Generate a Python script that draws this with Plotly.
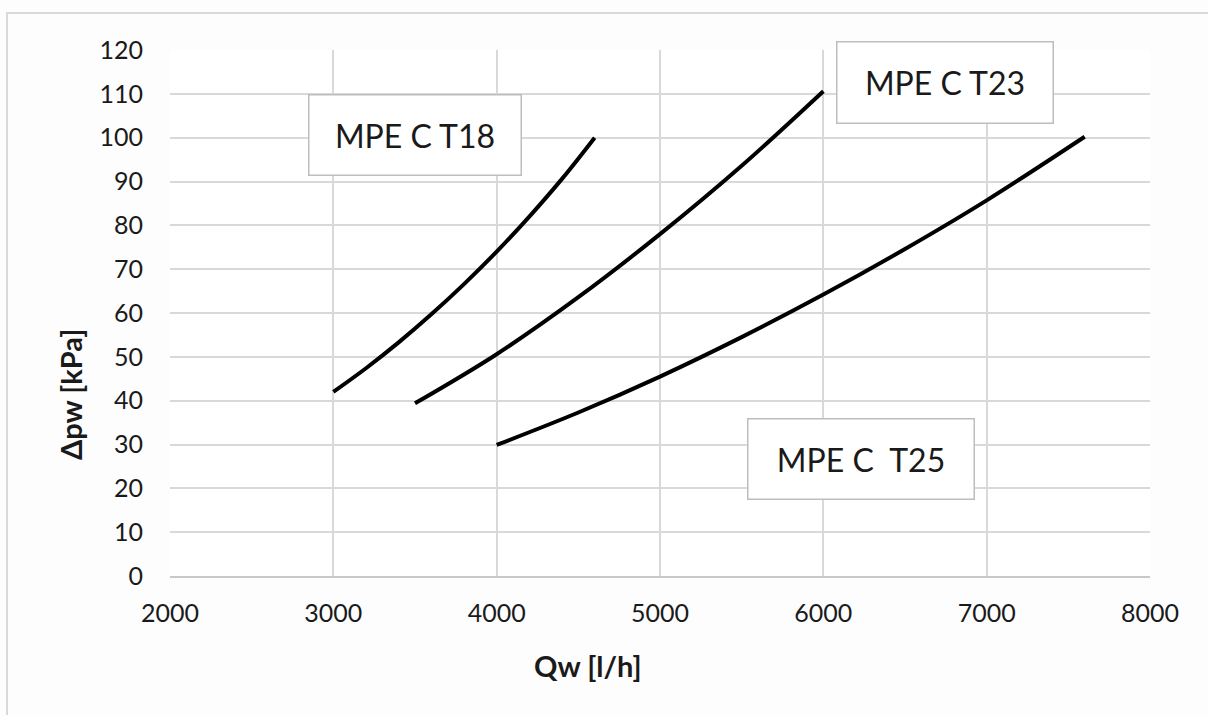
import plotly.graph_objects as go

# Data
qw_t18 = [3000, 3200, 3400, 3600, 3800, 4000, 4200, 4400, 4600]
dp_t18 = [42.0, 47.4, 53.3, 59.7, 66.6, 74.0, 82.0, 90.6, 100.0]

qw_t23 = [3500, 4000, 4500, 5000, 5500, 6000]
dp_t23 = [39.4, 50.6, 63.6, 78.0, 93.6, 110.6]

qw_t25 = [4000, 4500, 5000, 5500, 6000, 6500, 7000, 7600]
dp_t25 = [29.9, 37.3, 45.5, 54.5, 64.2, 74.6, 85.7, 100.2]

series_names = ["MPE C T18", "MPE C T23", "MPE C  T25"]
label_pos = [(3503, 100.0), (6742, 111.8), (6228, 25.9)]
label_box = [(211, 79), (215, 80), (225, 79)]

x_ticks = [2000, 3000, 4000, 5000, 6000, 7000, 8000]
y_ticks = list(range(0, 121, 10))

FONT = "Lato"

fig = go.Figure()
for qx, dy, nm in zip([qw_t18, qw_t23, qw_t25], [dp_t18, dp_t23, dp_t25], series_names):
    fig.add_trace(go.Scatter(
        x=qx, y=dy, mode="lines", name=nm,
        line=dict(color="black", width=4, shape="spline", smoothing=1.0),
        showlegend=False, hoverinfo="skip",
    ))

annotations = []
for nm, (ax, ay), (w, h) in zip(series_names, label_pos, label_box):
    annotations.append(dict(
        x=ax, y=ay, xref="x", yref="y", text=nm.replace("  ", "&nbsp; "),
        showarrow=False, width=w, height=h, align="center", valign="middle",
        bgcolor="white", bordercolor="#bdbdbd", borderwidth=1.5, borderpad=0,
        font=dict(family=FONT, size=32, color="#1a1a1a"), yshift=3,
    ))

# axis titles
annotations.append(dict(
    x=(588 - 170) / 980, y=(576 - 665) / 526, xref="paper", yref="paper",
    text="<b>Qw [l/h]</b>", showarrow=False, xanchor="center", yanchor="middle",
    font=dict(family=FONT, size=29, color="#1a1a1a"),
))
annotations.append(dict(
    x=(70 - 170) / 980, y=(576 - 395) / 526, xref="paper", yref="paper",
    text="<b>Δpw [kPa]</b>", showarrow=False, xanchor="center", yanchor="middle",
    textangle=-90, font=dict(family=FONT, size=29, color="#1a1a1a"),
))

shapes = [dict(
    type="rect", xref="paper", yref="paper",
    x0=(7 - 170) / 980, x1=(1230 - 170) / 980,
    y0=(576 - 740) / 526, y1=(576 - 13) / 526,
    line=dict(color="#d9d9d9", width=2), fillcolor="rgba(0,0,0,0)", layer="below",
)]

fig.update_layout(
    width=1208, height=715,
    margin=dict(l=170, r=58, t=50, b=139),
    paper_bgcolor="#fdfdfd", plot_bgcolor="white",
    annotations=annotations, shapes=shapes,
    font=dict(family=FONT, color="#1a1a1a"),
)
fig.update_xaxes(
    range=[2000, 8000], tickvals=x_ticks, ticktext=[str(v) for v in x_ticks],
    showgrid=True, gridcolor="#d9d9d9", gridwidth=1.5,
    showline=True, linecolor="#c8c8c8", linewidth=2, mirror=False,
    zeroline=False, ticks="", ticklabelstandoff=14,
    tickfont=dict(family=FONT, size=25, color="#1a1a1a"),
)
fig.update_yaxes(
    range=[0, 120], tickvals=y_ticks, ticktext=[str(v) for v in y_ticks],
    showgrid=True, gridcolor="#d9d9d9", gridwidth=1.5,
    showline=False, zeroline=False, ticks="", ticklabelstandoff=26,
    tickfont=dict(family=FONT, size=25, color="#1a1a1a"),
)

fig.write_html("out.html")
